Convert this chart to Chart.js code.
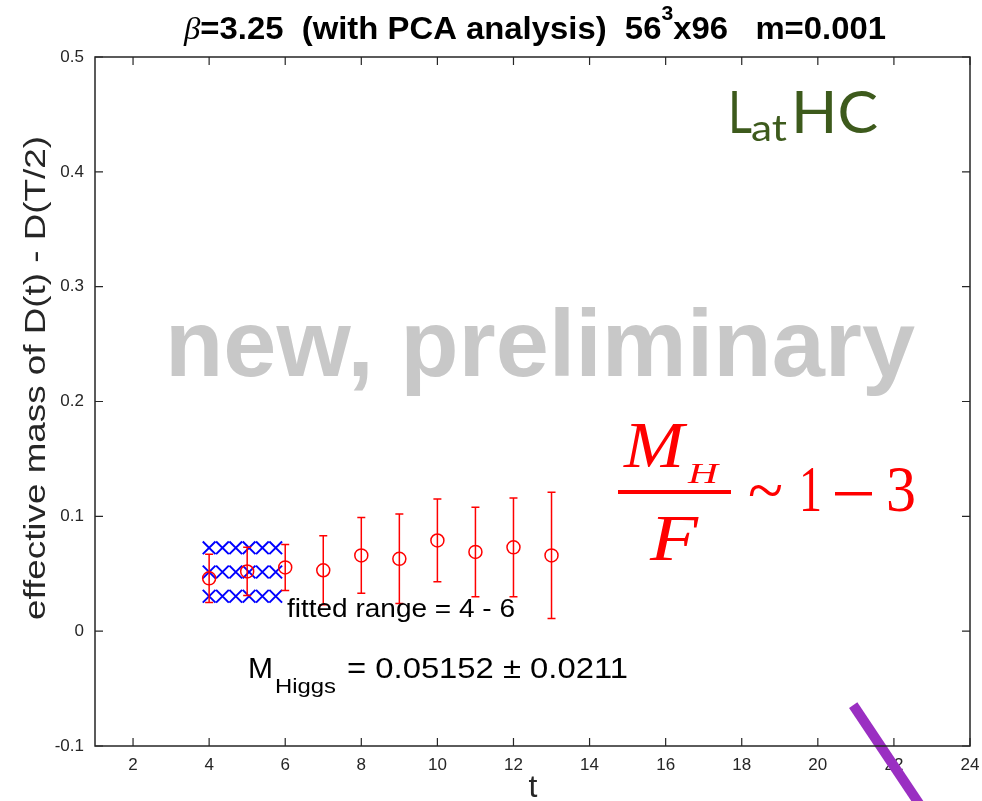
<!DOCTYPE html>
<html>
<head>
<meta charset="utf-8">
<title>effective mass</title>
<script src="https://cdn.jsdelivr.net/npm/chart.js@4.4.1/dist/chart.umd.min.js"></script>
<style>
  html, body { margin: 0; padding: 0; background: #fff; }
  canvas { display: block; }
</style>
</head>
<body>
<canvas id="myChart" width="982" height="801"></canvas>
<script>
// data
const tValues = [4, 5, 6, 7, 8, 9, 10, 11, 12, 13];
const massValues = [0.046, 0.052, 0.0555, 0.053, 0.066, 0.063, 0.079, 0.069, 0.073, 0.066];
const massErrors = [0.021, 0.021, 0.020, 0.030, 0.033, 0.039, 0.036, 0.039, 0.043, 0.055];

// fit band (crosses): t positions and the three levels (upper, central, lower)
const fitT = [4, 4.35, 4.7, 5.05, 5.4, 5.75];
const fitLevels = [0.0726, 0.05152, 0.0304];

// the purple stroke in the lower right corner
const strokeT = [20.93, 22.95];
const strokeY = [-0.0644, -0.1645];

const xTicks = [2, 4, 6, 8, 10, 12, 14, 16, 18, 20, 22, 24];
const yTicks = [-0.1, 0, 0.1, 0.2, 0.3, 0.4, 0.5];
const yTickLabels = ['-0.1', '0', '0.1', '0.2', '0.3', '0.4', '0.5'];

const axisColor = '#262626';
const sans = '"Liberation Sans", Arial, sans-serif';
const serif = '"Liberation Serif", "Times New Roman", serif';

// draw text squeezed/stretched to a given width
function fitText(ctx, text, x, y, w) {
  const m = ctx.measureText(text).width;
  ctx.save();
  ctx.translate(x, y);
  ctx.scale(w / m, 1);
  ctx.fillText(text, 0, 0);
  ctx.restore();
}

// MATLAB-like box with inward ticks
const boxPlugin = {
  id: 'box',
  afterDraw(chart) {
    const { ctx, chartArea: a, scales } = chart;
    ctx.save();
    ctx.strokeStyle = axisColor;
    ctx.lineWidth = 1.5;
    ctx.strokeRect(a.left, a.top, a.right - a.left, a.bottom - a.top);
    ctx.lineWidth = 1.2;
    ctx.beginPath();
    xTicks.forEach(v => {
      const px = scales.x.getPixelForValue(v);
      ctx.moveTo(px, a.bottom); ctx.lineTo(px, a.bottom - 8);
      ctx.moveTo(px, a.top); ctx.lineTo(px, a.top + 8);
    });
    yTicks.forEach(v => {
      const py = scales.y.getPixelForValue(v);
      ctx.moveTo(a.left, py); ctx.lineTo(a.left + 8, py);
      ctx.moveTo(a.right, py); ctx.lineTo(a.right - 8, py);
    });
    ctx.stroke();
    ctx.restore();
  }
};

// vertical error bars for the red points (dataset 0)
const errorBarPlugin = {
  id: 'errorBars',
  beforeDatasetDraw(chart, args) {
    if (args.index !== 0) return;
    const { ctx, scales } = chart;
    ctx.save();
    ctx.strokeStyle = '#ff0000';
    ctx.lineWidth = 1.5;
    ctx.beginPath();
    tValues.forEach((t, i) => {
      const px = scales.x.getPixelForValue(t);
      const top = scales.y.getPixelForValue(massValues[i] + massErrors[i]);
      const bot = scales.y.getPixelForValue(massValues[i] - massErrors[i]);
      ctx.moveTo(px, top); ctx.lineTo(px, bot);
      ctx.moveTo(px - 4, top); ctx.lineTo(px + 4, top);
      ctx.moveTo(px - 4, bot); ctx.lineTo(px + 4, bot);
    });
    ctx.stroke();
    ctx.restore();
  }
};

const textPlugin = {
  id: 'texts',
  beforeDatasetsDraw(chart) {
    const ctx = chart.ctx;
    ctx.save();
    ctx.fillStyle = '#c8c8c8';
    ctx.font = 'bold 95px ' + sans;
    ctx.textBaseline = 'alphabetic';
    ctx.textAlign = 'left';
    fitText(ctx, 'new, preliminary', 165, 376, 750);
    ctx.restore();
  },
  afterDraw(chart) {
    const ctx = chart.ctx;
    ctx.save();
    ctx.textAlign = 'left';
    ctx.textBaseline = 'alphabetic';

    // title
    const parts = [
      { t: '\u03B2', f: 'italic 31px ' + serif, dy: 0 },
      { t: '=3.25  (with PCA analysis)  56', f: 'bold 31px ' + sans, dy: 0 },
      { t: '3', f: 'bold 20px ' + sans, dy: -19 },
      { t: 'x96   m=0.001', f: 'bold 31px ' + sans, dy: 0 }
    ];
    let total = 0;
    parts.forEach(p => { ctx.font = p.f; p.w = ctx.measureText(p.t).width; total += p.w; });
    const sx = (886 - 184) / total;
    ctx.fillStyle = '#000';
    ctx.save();
    ctx.translate(184, 39);
    ctx.scale(sx, 1);
    let cx = 0;
    parts.forEach(p => { ctx.font = p.f; ctx.fillText(p.t, cx, p.dy); cx += p.w; });
    ctx.restore();

    // axis titles
    ctx.fillStyle = '#262626';
    ctx.font = '29px ' + sans;
    ctx.save();
    ctx.translate(45, 378);
    ctx.rotate(-Math.PI / 2);
    ctx.textAlign = 'center';
    const yl = 'effective mass of D(t) - D(T/2)';
    const ym = ctx.measureText(yl).width;
    ctx.scale(484 / ym, 1);
    ctx.fillText(yl, 0, 0);
    ctx.restore();

    ctx.font = '32px ' + sans;
    ctx.textAlign = 'center';
    ctx.fillText('t', 533, 797);
    ctx.textAlign = 'left';

    // LatHC logo
    ctx.fillStyle = '#3d5a1c';
    ctx.font = '58px Lato, "Open Sans", sans-serif';
    fitText(ctx, 'L', 728, 133, 24);
    ctx.font = '36px Lato, "Open Sans", sans-serif';
    fitText(ctx, 'at', 751, 141, 36);
    ctx.font = '58px Lato, "Open Sans", sans-serif';
    fitText(ctx, 'HC', 791, 133, 87);

    // M_H / F ~ 1-3
    ctx.fillStyle = '#ff0000';
    ctx.font = 'italic 66px ' + serif;
    fitText(ctx, 'M', 624, 467, 60);
    ctx.font = 'italic 30px ' + serif;
    fitText(ctx, 'H', 688, 483, 30);
    ctx.fillRect(618, 490, 113, 4);
    ctx.font = 'italic 66px ' + serif;
    fitText(ctx, 'F', 650, 560, 48);
    ctx.font = '66px ' + serif;
    fitText(ctx, '~', 748, 512, 35);
    fitText(ctx, '1', 799, 511, 23);
    ctx.fillRect(835, 492, 37, 3.5);
    fitText(ctx, '3', 886, 511, 30);

    // fit annotations
    ctx.fillStyle = '#000';
    ctx.font = '25px ' + sans;
    fitText(ctx, 'fitted range = 4 - 6', 287, 617, 228);
    ctx.font = '29px ' + sans;
    fitText(ctx, 'M', 248, 678, 25);
    ctx.font = '20px ' + sans;
    fitText(ctx, 'Higgs', 275, 693, 61);
    ctx.font = '29px ' + sans;
    fitText(ctx, '= 0.05152 \u00B1 0.0211', 347, 678, 281);

    ctx.restore();
  }
};

const ctx = document.getElementById('myChart').getContext('2d');

const fitColor = '#0000ff';
const fitDatasets = fitLevels.map(level => ({
  data: fitT.map(t => ({ x: t, y: level })),
  showLine: false,
  pointStyle: 'crossRot',
  pointRadius: 9,
  pointBorderWidth: 2,
  borderColor: fitColor,
  backgroundColor: fitColor
}));

const myChart = new Chart(ctx, {
  type: 'scatter',
  data: {
    datasets: [
      {
        data: tValues.map((t, i) => ({ x: t, y: massValues[i] })),
        showLine: false,
        pointStyle: 'circle',
        pointRadius: 6.5,
        pointBorderWidth: 1.5,
        borderColor: '#ff0000',
        backgroundColor: 'rgba(0,0,0,0)'
      },
      ...fitDatasets,
      {
        data: strokeT.map((t, i) => ({ x: t, y: strokeY[i] })),
        showLine: true,
        borderColor: '#9a2fc2',
        borderWidth: 10,
        borderCapStyle: 'butt',
        pointRadius: 0,
        clip: false
      }
    ]
  },
  plugins: [textPlugin, errorBarPlugin, boxPlugin],
  options: {
    responsive: false,
    animation: false,
    devicePixelRatio: 1,
    layout: { padding: { top: 57, right: 12, left: 0, bottom: 0 } },
    plugins: {
      legend: { display: false },
      title: { display: false },
      tooltip: { enabled: false }
    },
    scales: {
      x: {
        type: 'linear',
        min: 1,
        max: 24,
        grid: { display: false, drawTicks: false },
        border: { display: false },
        afterBuildTicks: scale => { scale.ticks = xTicks.map(v => ({ value: v })); },
        afterFit: scale => {
          scale.height = 55;
          scale.paddingLeft = 0;
          scale.paddingRight = 0;
        },
        ticks: {
          padding: 9,
          color: axisColor,
          font: { family: sans, size: 17 },
          maxRotation: 0,
          autoSkip: false
        }
      },
      y: {
        type: 'linear',
        min: -0.1,
        max: 0.5,
        grid: { display: false, drawTicks: false },
        border: { display: false },
        afterBuildTicks: scale => { scale.ticks = yTicks.map(v => ({ value: v })); },
        afterFit: scale => {
          scale.width = 95;
          scale.paddingTop = 0;
          scale.paddingBottom = 0;
        },
        ticks: {
          padding: 11,
          color: axisColor,
          font: { family: sans, size: 17 },
          autoSkip: false,
          callback: (value, index) => yTickLabels[index]
        }
      }
    }
  }
});
</script>
</body>
</html>
